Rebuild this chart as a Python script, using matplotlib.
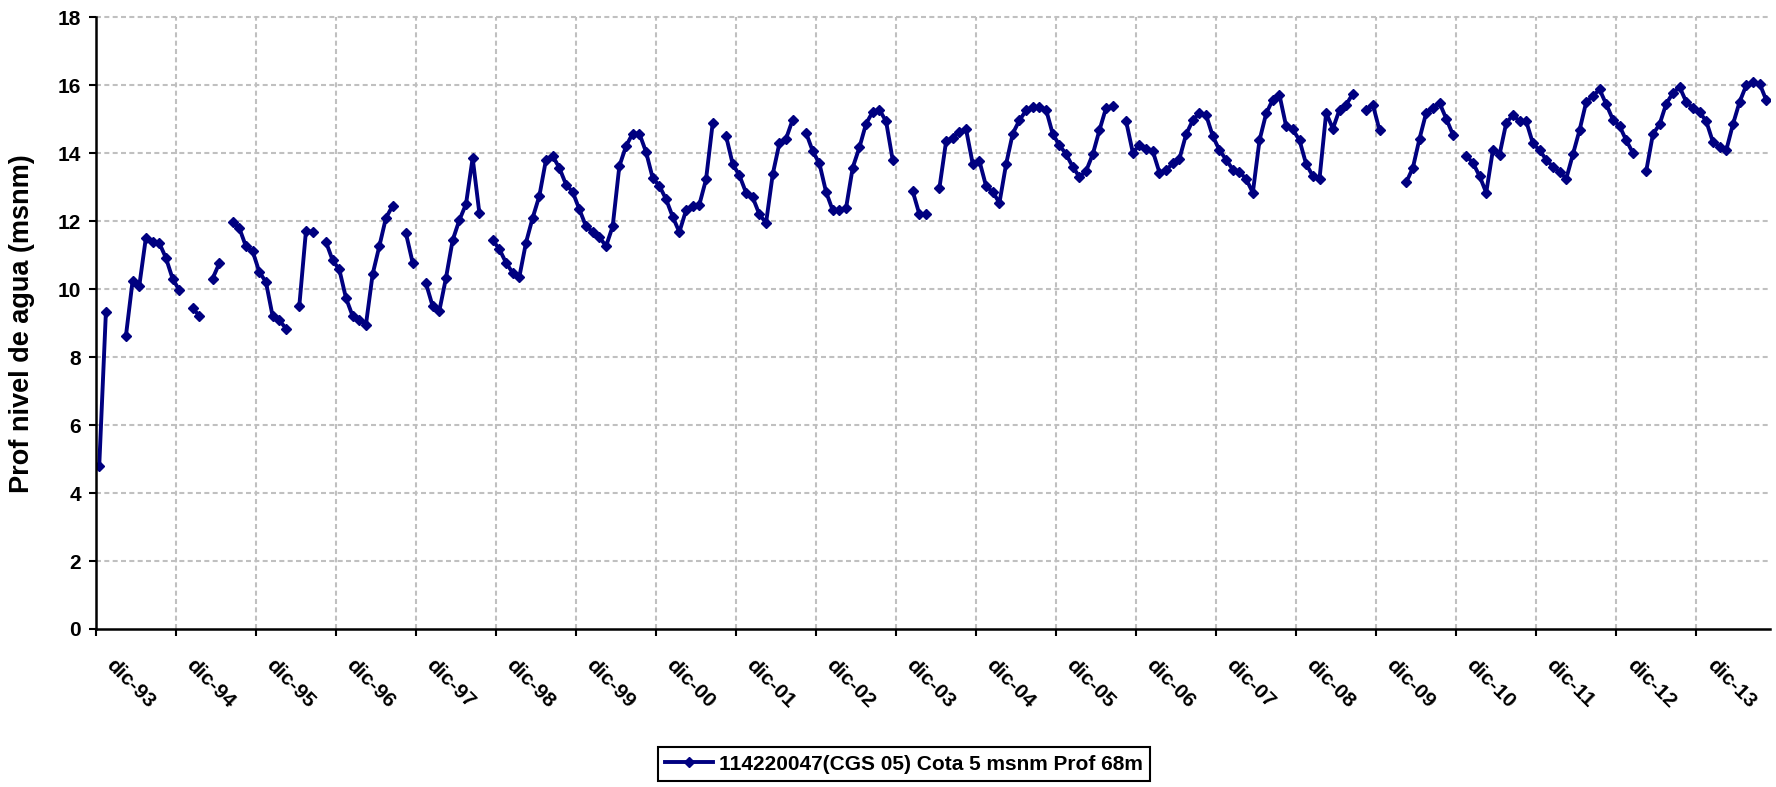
import numpy as np
import matplotlib
matplotlib.use('Agg')
import matplotlib.pyplot as plt
import matplotlib.transforms as mtransforms

###### Data (monthly, starting dic-93; None = no reading)
years = ['93', '94', '95', '96', '97', '98', '99', '00', '01', '02',
         '03', '04', '05', '06', '07', '08', '09', '10', '11', '12', '13']
tick_labels = ['dic-' + y for y in years]

nivel = [
    4.80, 9.33, None, None, 8.62, 10.24, 10.09, 11.52, 11.39, 11.36, 10.92, 10.31,
    9.97, None, 9.45, 9.21, None, 10.31, 10.76, None, 11.98, 11.80, 11.26, 11.12,
    10.51, 10.21, 9.21, 9.09, 8.84, None, 9.50, 11.71, 11.69, None, 11.39, 10.85,
    10.58, 9.74, 9.21, 9.09, 8.96, 10.44, 11.26, 12.10, 12.45, None, 11.64, 10.78,
    None, 10.17, 9.50, 9.36, 10.33, 11.44, 12.03, 12.50, 13.86, 12.25, None, 11.44,
    11.18, 10.78, 10.48, 10.36, 11.37, 12.10, 12.74, 13.81, 13.92, 13.57, 13.08, 12.86,
    12.35, 11.85, 11.69, 11.54, 11.26, 11.85, 13.62, 14.21, 14.58, 14.58, 14.04, 13.27,
    13.04, 12.65, 12.13, 11.68, 12.32, 12.45, 12.49, 13.23, 14.89, None, 14.51, 13.68,
    13.35, 12.84, 12.70, 12.20, 11.95, 13.38, 14.29, 14.43, 14.99, None, 14.60, 14.06,
    13.70, 12.86, 12.32, 12.32, 12.39, 13.58, 14.17, 14.87, 15.22, 15.28, 14.94, 13.79,
    None, None, 12.88, 12.20, 12.20, None, 12.98, 14.35, 14.46, 14.63, 14.70, 13.68,
    13.77, 13.03, 12.86, 12.54, 13.68, 14.58, 14.97, 15.26, 15.36, 15.36, 15.28, 14.56,
    14.24, 13.97, 13.60, 13.30, 13.48, 13.97, 14.68, 15.34, 15.39, None, 14.94, 14.02,
    14.24, 14.12, 14.06, 13.43, 13.50, 13.70, 13.84, 14.56, 14.97, 15.19, 15.12, 14.50,
    14.09, 13.81, 13.52, 13.45, 13.24, 12.84, 14.38, 15.17, 15.58, 15.71, 14.79, 14.70,
    14.38, 13.68, 13.33, 13.25, 15.19, 14.72, 15.28, 15.43, 15.75, None, 15.26, 15.43,
    14.68, None, None, None, 13.14, 13.57, 14.43, 15.19, 15.33, 15.48, 15.02, 14.55,
    None, 13.92, 13.72, 13.33, 12.84, 14.09, 13.96, 14.89, 15.12, 14.94, 14.94, 14.29,
    14.09, 13.81, 13.60, 13.45, 13.25, 13.97, 14.68, 15.51, 15.68, 15.88, 15.44, 14.99,
    14.80, 14.38, 14.01, None, 13.48, 14.56, 14.85, 15.46, 15.77, 15.95, 15.51, 15.33,
    15.21, 14.94, 14.33, 14.19, 14.09, 14.85, 15.51, 16.00, 16.10, 16.05, 15.56,
]
serie_label = '114220047(CGS 05) Cota 5 msnm Prof 68m'


def plotSettings():
	font = ['Liberation Sans', 'DejaVu Sans']
	settings = {
		'font': font,
		'line': {'color': '#000080', 'linewidth': 2.8, 'marker': 'D', 'markersize': 5.5},
		'grid': {'color': '#c0c0c0', 'linewidth': 1.5, 'dashes': (2.4, 1.6)},
		'ticks': {'labelsize': 15, 'width': 1.5, 'length': 4.8, 'color': 'black'},
		'ylabel': {'fontsize': 19.5, 'fontweight': 'bold', 'family': font},
		'legend': {'fontsize': 15},
	}
	return settings


def plotNivel(nivel, settings):
	y = np.array(nivel, dtype=float)
	x = np.arange(len(y)) + 0.5

	fig = plt.figure(figsize=(17.76, 7.87), dpi=100)
	ax = fig.add_axes([0.054, 0.2008, 0.9424, 0.7772])

	ax.plot(x, y, label=serie_label, **settings['line'])

	ax.set_xlim(0, len(y))
	ax.set_ylim(0, 18)
	ax.set_yticks(np.arange(0, 19, 2))
	xt = np.arange(0, 12 * len(tick_labels), 12)
	ax.set_xticks(xt)
	ax.set_xticklabels(tick_labels, rotation=-45, ha='left', va='top', rotation_mode='anchor')

	# dashed grid (not on the axis lines themselves)
	for v in xt[1:]:
		ax.axvline(v, zorder=0, **settings['grid'])
	for v in np.arange(2, 19, 2):
		ax.axhline(v, zorder=0, clip_on=False, **settings['grid'])

	for s in ['top', 'right']:
		ax.spines[s].set_visible(False)
	for s in ['left', 'bottom']:
		ax.spines[s].set_linewidth(1.8)

	ax.tick_params(axis='both', direction='out', **settings['ticks'])
	ax.tick_params(axis='y', pad=6)
	ax.tick_params(axis='x', pad=14)
	offset = mtransforms.ScaledTranslation(20 / 100, 0, fig.dpi_scale_trans)
	for lab in ax.get_xticklabels():
		lab.set_transform(lab.get_transform() + offset)
	for lab in ax.get_xticklabels() + ax.get_yticklabels():
		lab.set_fontweight('bold')
		lab.set_family(settings['font'])

	ax.set_ylabel('Prof nivel de agua (msnm)', **settings['ylabel'])
	ax.yaxis.set_label_coords(-0.0364, 0.5)

	leg = fig.legend(loc='center', bbox_to_anchor=(0.509, 0.029), frameon=True,
	                 fancybox=False, framealpha=1, edgecolor='black', handlelength=2.3,
	                 borderpad=0.35, handletextpad=0.3,
	                 prop={'weight': 'bold', 'size': settings['legend']['fontsize'], 'family': settings['font']})
	leg.get_frame().set_linewidth(1.5)

	fig.savefig('out.png', dpi=100)


plotNivel(nivel, plotSettings())
